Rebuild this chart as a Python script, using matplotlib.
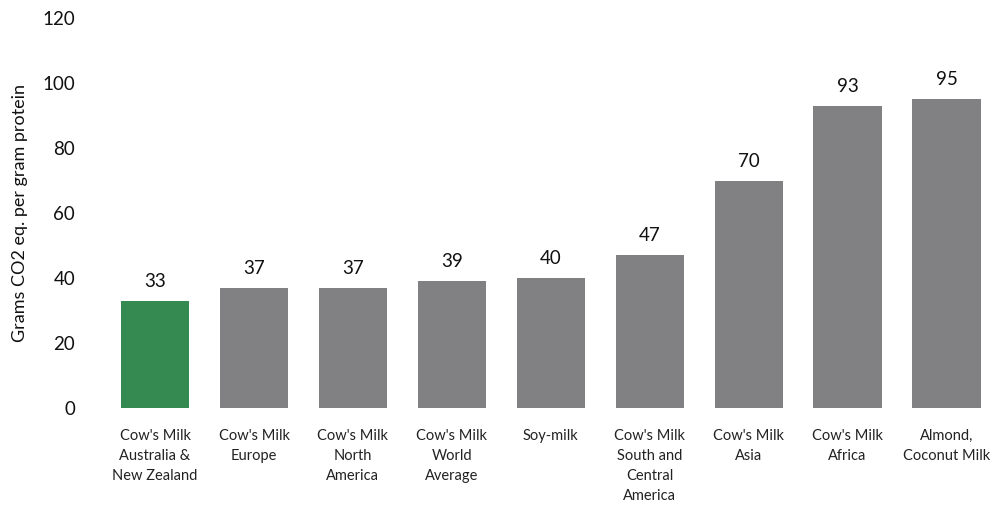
import matplotlib
matplotlib.use("Agg")
from matplotlib import pyplot as plt

# data
categories = [
    "Cow's Milk\nAustralia &\nNew Zealand",
    "Cow's Milk\nEurope",
    "Cow's Milk\nNorth\nAmerica",
    "Cow's Milk\nWorld\nAverage",
    "Soy-milk",
    "Cow's Milk\nSouth and\nCentral\nAmerica",
    "Cow's Milk\nAsia",
    "Cow's Milk\nAfrica",
    "Almond,\nCoconut Milk",
]
values = [33, 37, 37, 39, 40, 47, 70, 93, 95]
highlight = 0

GRAY = '#818183'
GREEN = '#358a51'

plt.rcParams['font.family'] = ['Lato', 'DejaVu Sans']

fig = plt.figure(figsize=(9.96, 5.05), dpi=100)
ax = fig.add_axes([0.106, 0.192, 0.894, 0.772])

colors = [GREEN if i == highlight else GRAY for i in range(len(values))]
x = list(range(len(values)))
bars = ax.bar(x, values, width=0.69, color=colors)

for xi, v in zip(x, values):
    ax.annotate(str(v), (xi, v), xytext=(0, 8), textcoords='offset points',
                ha='center', va='bottom', fontsize=13.5, color='#111111')

ax.set_xlim(-0.5, 8.5)
ax.set_ylim(0, 120)
ax.set_yticks(range(0, 121, 20))
ax.tick_params(axis='y', length=0, labelsize=13.5, pad=22, labelcolor='#111111')
ax.set_xticks(x)
ax.set_xticklabels(categories, fontsize=10.5, linespacing=1.55, va='top', color='#222222')
ax.tick_params(axis='x', length=0, pad=15)
for s in ax.spines.values():
    s.set_visible(False)

ax.set_ylabel('Grams CO2 eq. per gram protein', fontsize=13, labelpad=10, color='#111111')

fig.savefig('out.png', dpi=100)
